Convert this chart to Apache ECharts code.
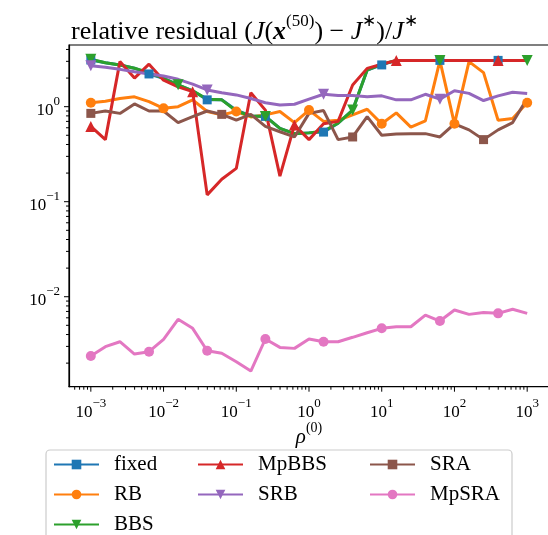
<!DOCTYPE html>
<html>
<head>
<meta charset="utf-8">
<script src="https://cdn.jsdelivr.net/npm/echarts@6/dist/echarts.min.js"></script>
<style>
    html, body { margin: 0; padding: 0; background: #fff; }
    #char1 { width: 548px; height: 535px; }
</style>
</head>
<body>
<div id="char1"></div>
<script>
// rho^(0) values (31 points, log spaced)
var rho = [0.001, 0.001585, 0.002512, 0.003981, 0.00631, 0.01, 0.01585, 0.02512, 0.03981, 0.0631,
    0.1, 0.1585, 0.2512, 0.3981, 0.631, 1, 1.585, 2.512, 3.981, 6.31,
    10, 15.85, 25.12, 39.81, 63.1, 100, 158.5, 251.2, 398.1, 631, 1000];

var fixedVals = [3.1, 2.9, 2.75, 2.54, 2.21, 1.99, 1.7, 1.47, 1.18, 1.18,
    0.92, 0.8, 0.79, 0.59, 0.52, 0.53, 0.54, 0.67, 0.92, 2.43,
    2.75, 3.07, 3.07, 3.07, 3.07, 3.07, 3.07, 3.07, 3.07, 3.07, 3.07];
var rbVals = [1.1, 1.14, 1.22, 1.27, 1.13, 0.96, 1.0, 1.18, 0.89, 0.82,
    0.89, 0.78, 0.82, 0.89, 0.68, 0.92, 0.7, 0.72, 0.82, 0.94,
    0.66, 0.86, 0.61, 0.71, 3.05, 0.66, 2.98, 2.28, 0.72, 0.75, 1.1];
var bbsVals = [3.15, 2.9, 2.75, 2.54, 2.28, 1.99, 1.7, 1.47, 1.2, 1.18,
    0.9, 0.8, 0.79, 0.59, 0.52, 0.53, 0.555, 0.67, 0.92, 2.43,
    2.8, 3.07, 3.07, 3.07, 3.07, 3.07, 3.07, 3.07, 3.07, 3.07, 3.07];
var mpbbsVals = [0.62, 0.45, 2.98, 2.0, 2.8, 1.9, 1.62, 1.44, 0.118, 0.172,
    0.224, 1.4, 0.92, 0.186, 0.64, 0.45, 0.66, 0.7, 1.69, 2.53,
    2.8, 3.07, 3.07, 3.07, 3.07, 3.07, 3.07, 3.07, 3.07, 3.07, 3.07];
var srbVals = [2.7, 2.6, 2.47, 2.33, 2.21, 2.1, 1.94, 1.73, 1.5, 1.4,
    1.33, 1.22, 1.1, 1.04, 1.06, 1.2, 1.35, 1.31, 1.31, 1.27,
    1.3, 1.18, 1.18, 1.35, 1.2, 1.47, 1.38, 1.16, 1.3, 1.42, 1.38];
var sraVals = [0.85, 0.9, 0.85, 1.07, 0.9, 0.9, 0.68, 0.785, 0.9, 0.83,
    0.72, 0.83, 0.62, 0.545, 0.48, 0.85, 0.91, 0.45, 0.48, 0.785,
    0.5, 0.515, 0.52, 0.52, 0.48, 0.66, 0.57, 0.45, 0.57, 0.68, 1.22];
var mpsraVals = [0.00238, 0.00298, 0.00336, 0.00249, 0.00264, 0.00356, 0.00578, 0.00465, 0.0027, 0.00254,
    0.00207, 0.00165, 0.00359, 0.00293, 0.00286, 0.00359, 0.00336, 0.00336, 0.00374, 0.00418,
    0.00465, 0.00483, 0.00483, 0.00641, 0.00555, 0.00724, 0.00652, 0.00684, 0.00668, 0.00737, 0.00668];

var names = ['fixed', 'RB', 'BBS', 'MpBBS', 'SRB', 'SRA', 'MpSRA'];
var colors = ['#1f77b4', '#ff7f0e', '#2ca02c', '#d62728', '#9467bd', '#8c564b', '#e377c2'];

var xMin = 0.000501, xMax = 1995;
var yMin = 0.00113, yMax = 4.457;
var serif = 'Liberation Serif';

function mkSeries(name, vals, color, symbol, size, every, rotate) {
    var d = [];
    for (var i = 0; i < vals.length; i++) {
        d.push([rho[i], vals[i]]);
    }
    return {
        name: name,
        type: 'line',
        data: d,
        symbol: symbol,
        symbolRotate: rotate || 0,
        symbolSize: function (val, params) {
            return params.dataIndex % every === 0 ? size : 0;
        },
        showAllSymbol: true,
        color: color,
        itemStyle: { color: color, borderWidth: 0 },
        lineStyle: { color: color, width: 3 },
        emphasis: { disabled: true },
        animation: false
    };
}

function logLabel(value) {
    var e = Math.log10(value);
    var r = Math.round(e);
    if (Math.abs(e - r) > 1e-6) return '';
    return '{b|10}{s|' + String(r).replace('-', '\u2212') + '}';
}

var tickRich = {
    b: { fontFamily: serif, fontSize: 17, color: '#000', lineHeight: 24, verticalAlign: 'bottom' },
    s: { fontFamily: serif, fontSize: 13, color: '#000', lineHeight: 13, verticalAlign: 'top' }
};

var chart = echarts.init(document.getElementById('char1'));
var option = {
    animation: false,
    backgroundColor: '#fff',
    title: {
        left: 66,
        top: 8,
        text: '{n|relative residual (}{i|J}{n|(}{bx|x}{s|(50)}{n|) \u2212 }{i|J}{s|\u2217}{n|)/}{i|J}{s|\u2217}',
        textStyle: {
            fontWeight: 'normal',
            rich: {
                n: { fontFamily: serif, fontSize: 26, fontWeight: 'normal', color: '#000', lineHeight: 32, verticalAlign: 'bottom' },
                i: { fontFamily: serif, fontSize: 26, fontWeight: 'normal', fontStyle: 'italic', color: '#000', lineHeight: 32, verticalAlign: 'bottom' },
                bx: { fontFamily: serif, fontSize: 26, fontStyle: 'italic', fontWeight: 'bold', color: '#000', lineHeight: 32, verticalAlign: 'bottom' },
                s: { fontFamily: serif, fontSize: 17, fontWeight: 'normal', color: '#000', lineHeight: 16, verticalAlign: 'top' }
            }
        }
    },
    grid: {
        left: 69,
        top: 45,
        width: 480,
        height: 341.7,
        show: true,
        borderColor: '#000',
        borderWidth: 1.2,
        containLabel: false,
        outerBoundsMode: 'none'
    },
    legend: [
        {
            data: ['fixed', 'RB', 'BBS'],
            left: 53, top: 454
        },
        {
            data: ['MpBBS', 'SRB'],
            left: 197, top: 454
        },
        {
            data: ['SRA', 'MpSRA'],
            left: 369, top: 454
        }
    ].map(function (l) {
        l.orient = 'vertical';
        l.padding = 0;
        l.itemWidth = 45;
        l.itemHeight = 12;
        l.itemGap = 9;
        l.selectedMode = false;
        l.textStyle = { fontFamily: serif, fontSize: 21, color: '#000', lineHeight: 20, padding: [0, 0, 0, 10] };
        return l;
    }),
    xAxis: {
        type: 'log',
        min: xMin,
        max: xMax,
        name: '{i|\u03c1}{s|(0)}',
        nameLocation: 'middle',
        nameGap: 35,
        nameMoveOverlap: false,
        nameTextStyle: {
            rich: {
                i: { fontFamily: serif, fontSize: 21, fontStyle: 'italic', color: '#000', lineHeight: 26, verticalAlign: 'bottom' },
                s: { fontFamily: serif, fontSize: 14, color: '#000', lineHeight: 14, verticalAlign: 'top' }
            }
        },
        axisLine: { show: true, lineStyle: { color: '#000', width: 1.2 } },
        axisTick: { show: false },
        splitLine: { show: false },
        axisLabel: { margin: 10, formatter: logLabel, rich: tickRich }
    },
    yAxis: {
        type: 'log',
        min: yMin,
        max: yMax,
        axisLine: { show: true, lineStyle: { color: '#000', width: 1.2 } },
        axisTick: { show: false },
        splitLine: { show: false },
        axisLabel: { margin: 9, formatter: logLabel, rich: tickRich }
    },
    series: [
        mkSeries('fixed', fixedVals, colors[0], 'rect', 9, 4),
        mkSeries('RB', rbVals, colors[1], 'circle', 10, 5),
        mkSeries('BBS', bbsVals, colors[2], 'triangle', 11, 6, 180),
        mkSeries('MpBBS', mpbbsVals, colors[3], 'triangle', 11, 7),
        mkSeries('SRB', srbVals, colors[4], 'triangle', 11, 8, 180),
        mkSeries('SRA', sraVals, colors[5], 'rect', 9, 9),
        mkSeries('MpSRA', mpsraVals, colors[6], 'circle', 10, 4)
    ]
};
chart.setOption(option);

// axis ticks (major + minor) placed through the axes' own scales
function addTicks() {
    var els = [];
    var x0 = chart.convertToPixel({ xAxisIndex: 0 }, xMin);
    var yB = chart.convertToPixel({ yAxisIndex: 0 }, yMin);
    for (var k = -4; k <= 3; k++) {
        for (var m = 1; m <= 9; m++) {
            var v = m * Math.pow(10, k);
            var len = m === 1 ? 5 : 3;
            if (v >= xMin && v <= xMax) {
                var px = chart.convertToPixel({ xAxisIndex: 0 }, v);
                els.push({ type: 'line', silent: true, shape: { x1: px, y1: yB, x2: px, y2: yB + len }, style: { stroke: '#000', lineWidth: 1 } });
            }
            if (v >= yMin && v <= yMax) {
                var py = chart.convertToPixel({ yAxisIndex: 0 }, v);
                els.push({ type: 'line', silent: true, shape: { x1: x0, y1: py, x2: x0 - len, y2: py }, style: { stroke: '#000', lineWidth: 1 } });
            }
        }
    }
    // legend frame
    els.push({
        type: 'rect', silent: true, z: -1,
        shape: { x: 46, y: 450, width: 466, height: 100, r: 4 },
        style: { fill: 'rgba(255,255,255,0.8)', stroke: '#cccccc', lineWidth: 1.2 }
    });
    chart.setOption({ graphic: { elements: els } });
}
addTicks();
window.addEventListener('resize', function () { chart.resize(); });
</script>
</body>
</html>
